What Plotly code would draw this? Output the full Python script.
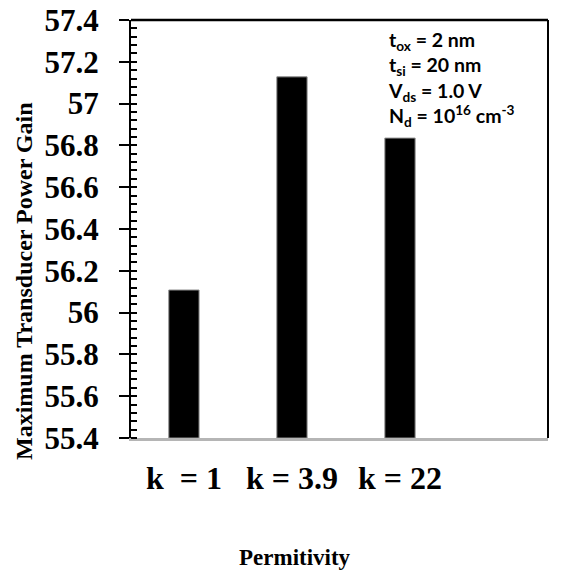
import plotly.graph_objects as go

categories = ["k  = 1", "k = 3.9", "k = 22"]
positions = [0, 1, 2]
gain = [56.108, 57.128, 56.835]
y_ticks = [55.4, 55.6, 55.8, 56.0, 56.2, 56.4, 56.6, 56.8, 57.0, 57.2, 57.4]
y_tick_text = ["55.4", "55.6", "55.8", "56", "56.2", "56.4", "56.6", "56.8", "57", "57.2", "57.4"]
base_value = 55.4

serif = "Liberation Serif"

fig = go.Figure()
fig.add_trace(go.Bar(
    x=positions, y=[g - base_value for g in gain], base=base_value, width=0.28,
    marker=dict(color="black", line=dict(color="#8c8c8c", width=1)),
))

fig.update_layout(
    template="none",
    font=dict(family=serif, color="black"),
    width=570, height=578,
    margin=dict(l=131, r=22, t=20, b=140),
    plot_bgcolor="white", paper_bgcolor="white",
    showlegend=False,
    xaxis=dict(
        range=[-0.49, 3.37], tickvals=positions,
        ticktext=["<b>" + c + "</b>" for c in categories],
        showgrid=False, zeroline=False,
        showline=True, linecolor="#b5b5b5", linewidth=2.5,
        ticks="", ticklabelstandoff=10,
        tickfont=dict(family=serif, size=32, color="black"),
    ),
    yaxis=dict(
        range=[55.4, 57.4], tickvals=y_ticks,
        ticktext=["<b>" + t + "</b>" for t in y_tick_text],
        showgrid=False, zeroline=False,
        showline=True, linecolor="black", linewidth=2,
        ticks="outside", ticklen=10, tickwidth=2, tickcolor="black",
        ticklabelstandoff=14,
        minor=dict(ticks="inside", dtick=0.04, ticklen=6, tickwidth=1.5, tickcolor="black", showgrid=False),
        tickfont=dict(family=serif, size=31, color="black"),
    ),
    shapes=[
        dict(type="line", xref="paper", yref="paper", x0=0, x1=1, y0=1, y1=1,
             line=dict(color="black", width=2.5)),
        dict(type="line", xref="paper", yref="paper", x0=1, x1=1, y0=0, y1=1,
             line=dict(color="black", width=2)),
    ],
    annotations=[
        dict(text="<b>Maximum Transducer Power Gain</b>", xref="paper", yref="paper",
             x=-0.2566, y=0.3756, xanchor="center", yanchor="middle", textangle=-90,
             showarrow=False, font=dict(family=serif, size=24, color="black")),
        dict(text="<b>Permitivity</b>", xref="paper", yref="paper",
             x=0.393, y=-0.287, xanchor="center", yanchor="middle",
             showarrow=False, font=dict(family=serif, size=23, color="black")),
        dict(text="<b>t<sub>ox</sub> = 2 nm<br>t<sub>si</sub> = 20 nm<br>V<sub>ds</sub> = 1.0 V<br>N<sub>d</sub> = 10<sup>16</sup> cm<sup>-3</sup></b>",
             xref="paper", yref="paper", x=0.612, y=0.985, xanchor="left", yanchor="top",
             align="left", showarrow=False,
             font=dict(family="Lato", size=19.5, color="black")),
    ],
)

fig.write_html("out.html")
